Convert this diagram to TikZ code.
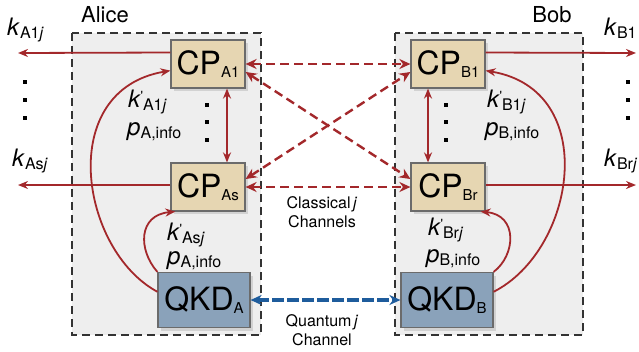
\documentclass[tikz,border=0pt]{standalone}
\usepackage{fontspec}
\setmainfont{TeX Gyre Heros}
\usepackage{xcolor}
\usetikzlibrary{arrows.meta,positioning,shadows}
\definecolor{cpfill}{HTML}{E6D6B2}
\definecolor{qkdfill}{HTML}{8AA2BA}
\definecolor{boxedge}{HTML}{6B6B6B}
\definecolor{keyred}{HTML}{A3282B}
\definecolor{qblue}{HTML}{1E5C9C}
\definecolor{partyfill}{HTML}{EEEEEE}
\tikzset{
  party/.style={draw=black!80,dash pattern=on 8pt off 5pt,line width=1.4pt,fill=partyfill},
  cpbox/.style={draw=boxedge,line width=1.2pt,fill=cpfill,minimum width=74pt,minimum height=48pt,
    inner sep=0pt,font=\fontsize{32}{32}\selectfont,
    drop shadow={opacity=0.25,shadow xshift=3pt,shadow yshift=-3pt}},
  qkdbox/.style={cpbox,fill=qkdfill,minimum width=92pt,minimum height=55pt},
  keyarr/.style={-{Stealth[length=10pt,width=8pt]},line width=1.8pt,draw=keyred},
  bothkey/.style={{Stealth[length=10pt,width=8pt]}-{Stealth[length=10pt,width=8pt]},line width=1.8pt,draw=keyred},
  clarr/.style={{Stealth[length=11pt,width=10pt]}-{Stealth[length=11pt,width=10pt]},line width=2.4pt,
    draw=keyred,dash pattern=on 9pt off 5pt},
  qarr/.style={{Stealth[length=11pt,width=10pt]}-{Stealth[length=11pt,width=10pt]},line width=3.4pt,
    draw=qblue,dash pattern=on 12pt off 3pt},
  lbl/.style={font=\fontsize{24}{24}\selectfont,inner sep=0pt,anchor=base west},
  chan/.style={font=\fontsize{16}{19}\selectfont,align=center,inner sep=0pt},
  partyname/.style={font=\fontsize{22}{22}\selectfont,inner sep=0pt},
  vdot/.style={fill=black,minimum size=4pt,inner sep=0pt}
}
\newcommand{\bsub}[1]{\raisebox{-3pt}{\fontsize{15}{15}\selectfont #1}}
\newcommand{\lsub}[1]{\raisebox{-3pt}{\fontsize{16}{16}\selectfont #1}}
\newcommand{\kp}{\textit{k}\kern-0.5pt\raisebox{7pt}{\fontsize{13}{13}\selectfont\textquotesingle}}

\begin{document}
\begin{tikzpicture}[x=1pt,y=-1pt]
\useasboundingbox (0,0) rectangle (639,351);
\draw[party] (72,33) rectangle (261,335);
\draw[party] (395,33) rectangle (583,335);
\node[partyname] (alice) at (105,15) {Alice};
\node[partyname] (bob) at (552,15) {Bob};

\node[cpbox] (cpa1) at (208,64) {CP\bsub{A1}};
\node[cpbox] (cpas) at (208,187) {CP\bsub{As}};
\node[qkdbox] (qkda) at (204,300) {QKD\bsub{A}};
\node[cpbox] (cpb1) at (448,64) {CP\bsub{B1}};
\node[cpbox] (cpbr) at (448,187) {CP\bsub{Br}};
\node[qkdbox] (qkdb) at (447,300) {QKD\bsub{B}};

\coordinate (ka1end) at (18,53);
\coordinate (kasend) at (18,185);
\coordinate (kb1end) at (636,53);
\coordinate (kbrend) at (636,185);
\draw[keyarr] (cpa1.163) -- (ka1end);
\draw[keyarr] (cpas.west |- kasend) -- (kasend);
\draw[keyarr] (cpb1.17) -- (kb1end);
\draw[keyarr] (cpbr.east |- kbrend) -- (kbrend);

\node[lbl] (ka1) at (7,35) {\textit{k}\lsub{A1\textit{j}}};
\node[lbl] (kas) at (12,166) {\textit{k}\lsub{As\textit{j}}};
\node[lbl] (kb1) at (604,35) {\textit{k}\lsub{B1}};
\node[lbl] (kbr) at (604,166) {\textit{k}\lsub{Br\textit{j}}};

\foreach \yy in {82,100,118} {
  \node[vdot] at (25,\yy) {};
  \node[vdot] at (628,\yy) {};
}
\foreach \yy in {105,122,140} {
  \node[vdot] at (207,\yy) {};
  \node[vdot] at (446,\yy) {};
}

\draw[bothkey] (cpa1.south -| 227,0) -- (cpas.north -| 227,0);
\draw[bothkey] (cpb1.south -| 428,0) -- (cpbr.north -| 428,0);

\draw[keyarr] (qkda.170) .. controls (80,250) and (55,90) .. (cpa1.190);
\draw[keyarr] (qkda.north west) .. controls (138,250) and (138,215) .. (cpas.217);
\draw[keyarr] (qkdb.10) .. controls (576,250) and (601,90) .. (cpb1.350);
\draw[keyarr] (qkdb.north east) .. controls (516,255) and (518,215) .. (cpbr.323);

\node[lbl] (kpa1) at (128,107) {\kp\lsub{A1\textit{j}}};
\node[lbl] (pa1) at (127,135) {\textit{p}\lsub{A,info}};
\node[lbl] (kpas) at (167,240) {\kp\lsub{As\textit{j}}};
\node[lbl] (pas) at (167,264) {\textit{p}\lsub{A,info}};
\node[lbl] (kpb1) at (487,107) {\kp\lsub{B1\textit{j}}};
\node[lbl] (pb1) at (485,135) {\textit{p}\lsub{B,info}};
\node[lbl] (kpbr) at (428,235) {\kp\lsub{Br\textit{j}}};
\node[lbl] (pbr) at (426,262) {\textit{p}\lsub{B,info}};

\draw[clarr] (cpa1.east) -- (cpb1.west);
\draw[clarr] (cpas.east) -- (cpbr.west);
\draw[clarr] (cpa1.-12) -- (cpbr.168);
\draw[clarr] (cpas.12) -- (cpb1.192);
\node[chan] (classical) at (322,212) {Classical\,\textit{j}\\Channels};

\draw[qarr] (qkda.east) -- (qkdb.west);
\node[chan] (quantum) at (322,330) {Quantum\,\textit{j}\\Channel};
\end{tikzpicture}
\end{document}
